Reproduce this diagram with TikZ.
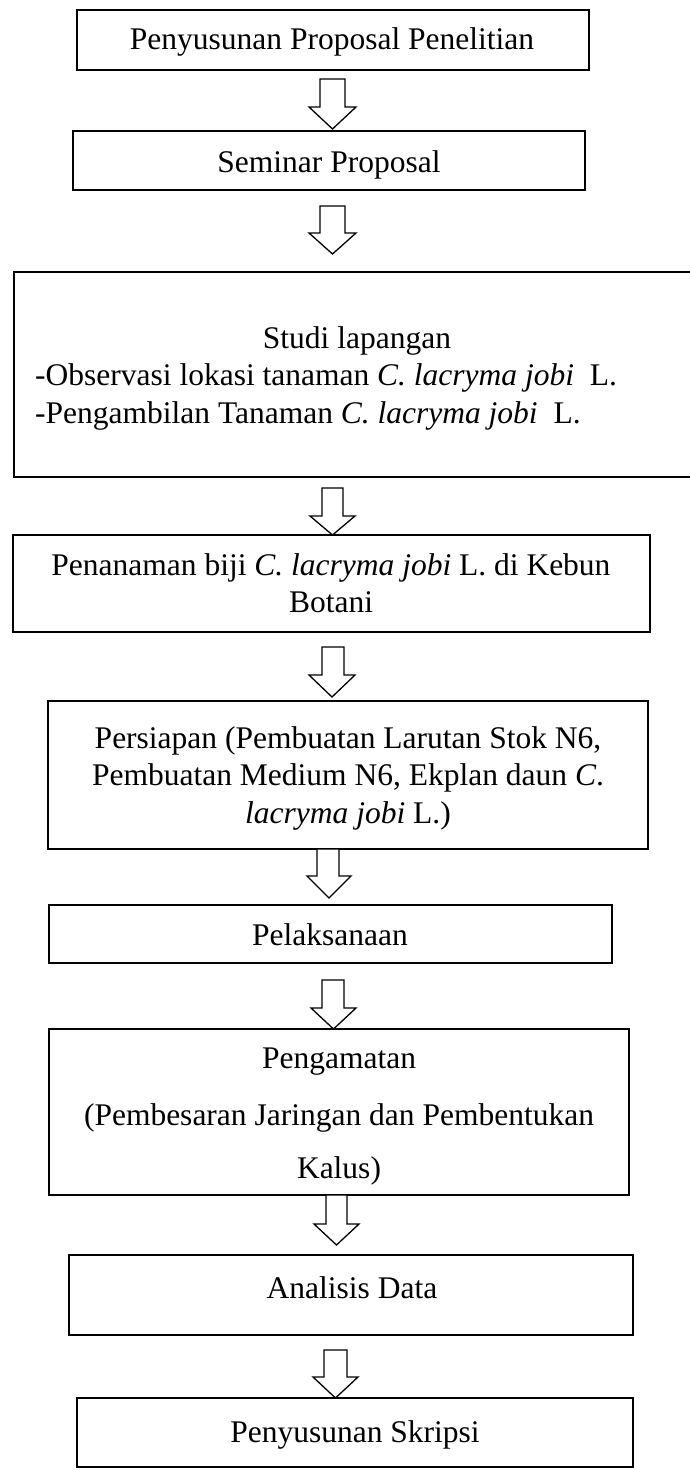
\documentclass[tikz,border=0pt]{standalone}
\usepackage{fontspec}
\setmainfont{Liberation Serif}
\newcommand\blockarr[8]{%
  \draw[barrow] (#1,#3) -- (#2,#3) -- (#2,#4) -- (#6,#4) -- (#8,#7) -- (#5,#4) -- (#1,#4) -- cycle;}
\begin{document}
\begin{tikzpicture}[x=1pt,y=-1pt,
  box/.style={draw,line width=1.6pt,inner sep=0pt,outer sep=0pt,rectangle},
  lbl/.style={anchor=base,inner sep=0pt,font=\fontsize{31.5}{37.5}\selectfont},
  lbll/.style={lbl,anchor=base west},
  barrow/.style={draw,line width=1.3pt,fill=white,line join=miter}]
\clip (0,0) rectangle (690,1470);
\fill[white] (0,0) rectangle (690,1470);
% boxes
\node[box,minimum width=512pt,minimum height=60pt] (b1) at (333,40) {};
\node[box,minimum width=512pt,minimum height=59pt] (b2) at (329,160.5) {};
\node[box,minimum width=706pt,minimum height=205pt] (b3) at (367,374.5) {};
\node[box,minimum width=637pt,minimum height=97pt] (b4) at (331.5,583.5) {};
\node[box,minimum width=600pt,minimum height=148pt] (b5) at (348,775) {};
\node[box,minimum width=563pt,minimum height=58pt] (b6) at (330.5,934) {};
\node[box,minimum width=580pt,minimum height=166pt] (b7) at (339,1112) {};
\node[box,minimum width=564pt,minimum height=80pt] (b8) at (351,1295) {};
\node[box,minimum width=556pt,minimum height=69pt] (b9) at (355,1432.5) {};
% texts
\node[lbl] (t1) at (332,49) {Penyusunan Proposal Penelitian};
\node[lbl] (t2) at (329,172) {Seminar Proposal};
\node[lbl] (t3a) at (357,348) {Studi lapangan};
\node[lbll] (t3b) at (35,385) {-Observasi lokasi tanaman \textit{C. lacryma jobi}\hspace{0.5em}L.};
\node[lbll] (t3c) at (35,423) {-Pengambilan Tanaman \textit{C. lacryma jobi}\hspace{0.5em}L.};
\node[lbl] (t4a) at (331,575) {Penanaman biji \textit{C. lacryma jobi} L. di Kebun};
\node[lbl] (t4b) at (331,612) {Botani};
\node[lbl] (t5a) at (348,748) {Persiapan (Pembuatan Larutan Stok N6,};
\node[lbl] (t5b) at (348,785) {Pembuatan Medium N6, Ekplan daun \textit{C}.};
\node[lbl] (t5c) at (348,823) {\textit{lacryma jobi} L.)};
\node[lbl] (t6) at (330,945) {Pelaksanaan};
\node[lbl] (t7a) at (339,1068) {Pengamatan};
\node[lbl] (t7b) at (339,1125) {(Pembesaran Jaringan dan Pembentukan};
\node[lbl] (t7c) at (339,1178) {Kalus)};
\node[lbl] (t8) at (352,1298) {Analisis Data};
\node[lbl] (t9) at (355,1442) {Penyusunan Skripsi};
% block arrows: xl xr ytop yhead hxl hxr ytip xtip
\blockarr{320}{345}{79}{107}{309}{356}{129}{332.5}
\blockarr{320}{345}{206}{233}{309}{356}{254}{332.5}
\blockarr{322}{343}{488}{516}{310}{355}{535}{332.5}
\blockarr{322}{344}{647}{675}{309}{355}{697}{332}
\blockarr{317}{339}{849}{876}{307}{351}{898}{329}
\blockarr{322}{344}{980}{1008}{311}{356}{1029}{333.5}
\blockarr{326}{347}{1195}{1224}{314}{359}{1245}{336.5}
\blockarr{324}{347}{1350}{1377}{313}{358}{1398}{335.5}
\end{tikzpicture}
\end{document}
